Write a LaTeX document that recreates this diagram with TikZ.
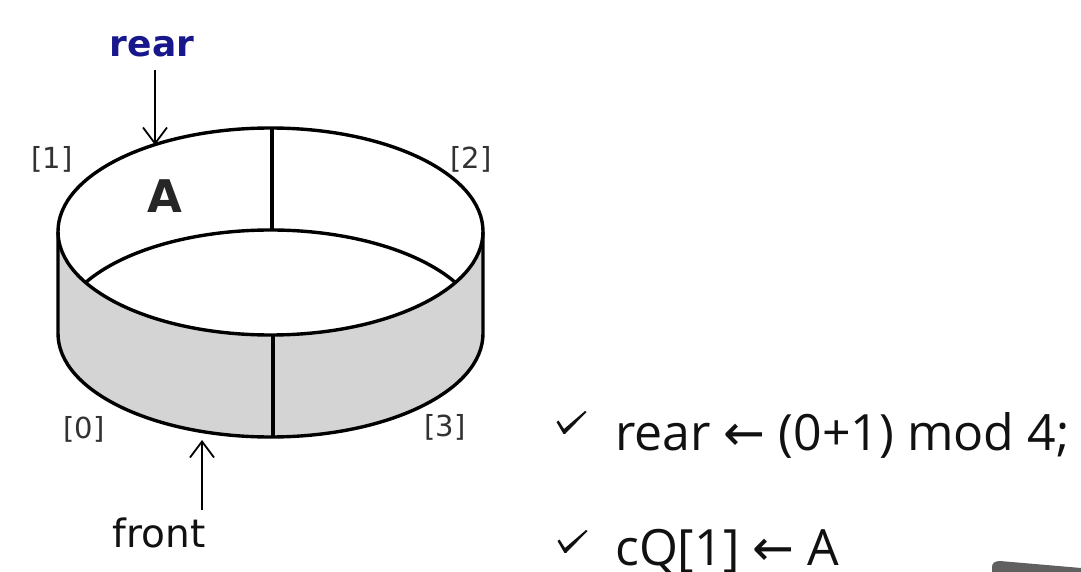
\documentclass[tikz,border=0pt]{standalone}
\usepackage{fontspec}
\usetikzlibrary{arrows.meta}
\newfontfamily\dejavu{DejaVu Sans}
\newfontfamily\osans{Open Sans}
\definecolor{wallgray}{RGB}{212,212,212}
\definecolor{rearblue}{RGB}{24,24,140}
\definecolor{idxgray}{RGB}{50,50,50}
\definecolor{txtdark}{RGB}{17,17,17}
\definecolor{pengray}{RGB}{96,96,96}
\newcommand{\larr}{{\dejavu\char"2190}}
\begin{document}
\begin{tikzpicture}[x=1pt,y=-1pt,
  rim/.style={line width=3.4pt,line join=round,draw=black},
  wall/.style={fill=wallgray},
  ptr/.style={line width=1.8pt,-{Straight Barb[length=16pt,width=24pt,line width=1.8pt]}},
  idx/.style={font=\dejavu\fontsize{29}{32}\selectfont,text=idxgray,anchor=base,inner sep=0pt},
  lbl/.style={font=\dejavu\fontsize{39}{44}\selectfont,text=txtdark,anchor=base,inner sep=0pt},
  stmt/.style={font=\osans\fontsize{50}{60}\selectfont,text=txtdark,anchor=base west,inner sep=0pt},
  chkmark/.pic={\fill[txtdark] (-7.5,-11) -- (-5.5,-12.5) -- (0,-4) -- (21,-22) -- (22.5,-21) -- (1.2,0.8) -- (-0.6,0.8) -- cycle;}
]
\fill[white] (0,0) rectangle (1081,572);
\useasboundingbox (0,0) rectangle (1081,572);

% front wall of the band
\fill[wall] (58,231.5) -- (58,333.5)
  arc[start angle=180,end angle=360,x radius=212.5pt,y radius=103.5pt]
  -- (483,231.5)
  arc[start angle=0,end angle=-180,x radius=212.5pt,y radius=103.5pt] -- cycle;

% outlines
\draw[rim] (270.5,231.5) ellipse[x radius=212.5pt,y radius=103.5pt];
\draw[rim] (58,231.5) -- (58,333.5)
  arc[start angle=180,end angle=360,x radius=212.5pt,y radius=103.5pt]
  -- (483,231.5);
\draw[rim] (270.5,333.5) ++(150.48:212.5pt and 103.5pt)
  arc[start angle=150.48,end angle=29.52,x radius=212.5pt,y radius=103.5pt];
\draw[rim] (272,128) -- (272,230);
\draw[rim] (273,335) -- (273,437.5);

% texts
\node[font=\dejavu\bfseries\fontsize{36}{40}\selectfont,text=rearblue,anchor=base,inner sep=0pt] (rearlbl) at (152,57) {rear};
\node[lbl] (frontlbl) at (159,547) {front};
\node[font=\dejavu\bfseries\fontsize{45}{50}\selectfont,text=black!85,anchor=base,inner sep=0pt] (cellA) at (165,212) {A};
\node[idx] (i1) at (52,169) {[1]};
\node[idx] (i2) at (471,169) {[2]};
\node[idx] (i0) at (84,438) {[0]};
\node[idx] (i3) at (445,436) {[3]};

% pointers
\coordinate (rtail) at (155,70);
\coordinate (rtip) at (155,145);
\coordinate (ftail) at (202,510);
\coordinate (ftip) at (202,440);
\draw[ptr] (rtail) -- (rtip);
\draw[ptr] (ftail) -- (ftip);

% statements
\pic at (564,433) {chkmark};
\pic at (565,552) {chkmark};
\node[stmt] (s1) at (615,450) {rear \larr{} (0+1) mod 4;};
\node[stmt] (s2) at (615,565) {cQ[1] \larr{} A};

% partial dark object at the lower right corner
\fill[pengray] (992,572) -- (992,567) .. controls (992,563) and (995,561) .. (1000,561) -- (1081,568) -- (1081,572) -- cycle;
\end{tikzpicture}
\end{document}
